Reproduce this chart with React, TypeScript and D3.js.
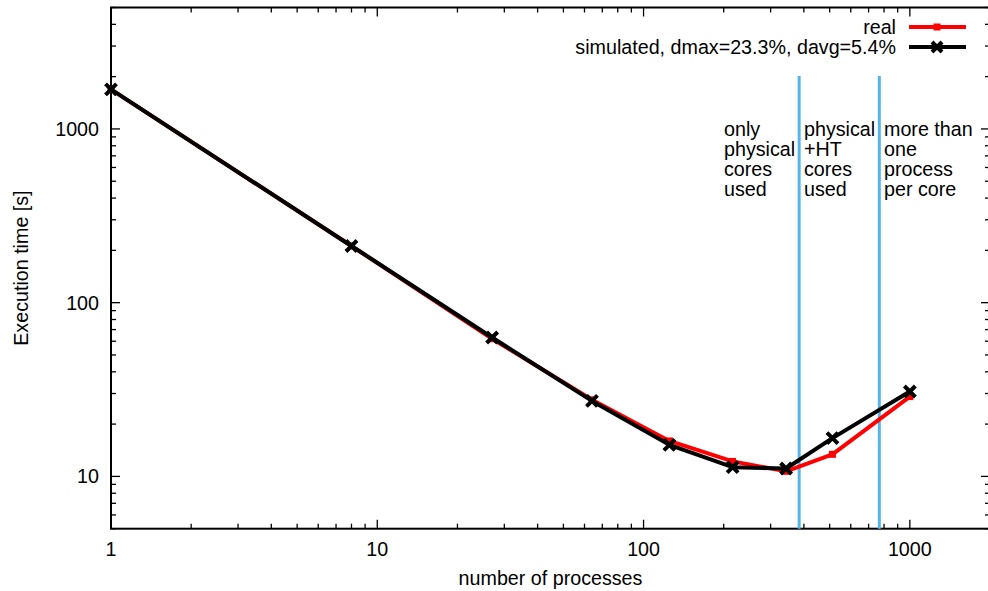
import React from "react";
import * as d3 from "d3";

const procs = [1, 8, 27, 64, 125, 216, 343, 512, 1000];
const realTimes = [1690, 212, 62, 27.6, 16.0, 12.2, 10.7, 13.4, 28.8];
const simTimes = [1690, 212, 63, 27.2, 15.2, 11.3, 11.1, 16.6, 30.8];
const xMajor = [1, 10, 100, 1000];
const yMajor = [10, 100, 1000];
const boundaries = [384, 768];
const regionLabels = [
  ["only", "physical", "cores", "used"],
  ["physical", "+HT", "cores", "used"],
  ["more than", "one", "process", "per core"],
];
const legendLabels = ["real", "simulated, dmax=23.3%, davg=5.4%"];

const W = 988;
const H = 591;
const L = 111, R = 990, T = 7.5, B = 528.7;
const FONT = "'Liberation Sans', Arial, Helvetica, sans-serif";
const FS = 19.7;

export default function App() {
  const x = d3.scaleLog().domain([1, 2000]).range([L, R]);
  const y = d3.scaleLog().domain([5, 5000]).range([B, T]);

  const xMinor: number[] = [];
  for (const d of [1, 10, 100, 1000]) for (let k = 2; k <= 9; k++) if (d * k <= 2000) xMinor.push(d * k);
  const yMinor: number[] = [];
  for (const d of [1, 10, 100, 1000]) for (let k = 2; k <= 9; k++) if (d * k >= 5 && d * k <= 5000) yMinor.push(d * k);

  const line = d3
    .line<number>()
    .x((_, i) => x(procs[i]))
    .y((v) => y(v));

  const maj = 9, mnr = 5;

  return (
    <div style={{ position: "absolute", left: 0, top: 0 }}>
      <svg width={W} height={H} style={{ display: "block", background: "#fff" }} fontFamily={FONT}>
        <rect x={0} y={0} width={W} height={H} fill="#fff" />
        {/* ticks */}
        <g stroke="#000" strokeWidth={1.3}>
          {xMajor.map((v) => (
            <g key={"xm" + v}>
              <line x1={x(v)} x2={x(v)} y1={B} y2={B - maj} />
              <line x1={x(v)} x2={x(v)} y1={T} y2={T + maj} />
            </g>
          ))}
          {xMinor.map((v) => (
            <g key={"xn" + v}>
              <line x1={x(v)} x2={x(v)} y1={B} y2={B - mnr} />
              <line x1={x(v)} x2={x(v)} y1={T} y2={T + mnr} />
            </g>
          ))}
          {yMajor.map((v) => (
            <g key={"ym" + v}>
              <line x1={L} x2={L + maj} y1={y(v)} y2={y(v)} />
              <line x1={R} x2={R - maj} y1={y(v)} y2={y(v)} />
            </g>
          ))}
          {yMinor.map((v) => (
            <g key={"yn" + v}>
              <line x1={L} x2={L + mnr} y1={y(v)} y2={y(v)} />
              <line x1={R} x2={R - mnr} y1={y(v)} y2={y(v)} />
            </g>
          ))}
        </g>
        <rect x={L} y={T} width={R - L} height={B - T} fill="none" stroke="#000" strokeWidth={2} />
        {/* tick labels */}
        <g fontSize={FS} fill="#000">
          {xMajor.map((v) => (
            <text key={"xl" + v} x={x(v)} y={556} textAnchor="middle">
              {v}
            </text>
          ))}
          {yMajor.map((v) => (
            <text key={"yl" + v} x={99} y={y(v) + 7} textAnchor="end">
              {v}
            </text>
          ))}
        </g>
        <text x={(L + R) / 2} y={585} textAnchor="middle" fontSize={FS}>
          number of processes
        </text>
        <text transform={`translate(28,${(T + B) / 2}) rotate(-90)`} textAnchor="middle" fontSize={FS}>
          Execution time [s]
        </text>
        {/* boundaries */}
        {boundaries.map((b) => (
          <line key={"b" + b} x1={x(b)} x2={x(b)} y1={76} y2={B} stroke="#56b4e9" strokeWidth={3} />
        ))}
        {regionLabels.map((lines, j) => (
          <text key={"r" + j} fontSize={FS} fill="#000">
            {lines.map((s, i) => (
              <tspan key={i} x={[724, 804, 884][j]} y={135.5 + 20 * i}>
                {s}
              </tspan>
            ))}
          </text>
        ))}
        {/* data */}
        <path d={line(realTimes) || ""} fill="none" stroke="#ff0000" strokeWidth={4} strokeLinejoin="round" />
        {procs.map((p, i) => (
          <rect key={"rp" + i} x={x(p) - 3.5} y={y(realTimes[i]) - 3.5} width={7} height={7} fill="#ff0000" />
        ))}
        <path d={line(simTimes) || ""} fill="none" stroke="#000" strokeWidth={4} strokeLinejoin="round" />
        {procs.map((p, i) => {
          const cx = x(p), cy = y(simTimes[i]), s = 5.5;
          return (
            <path
              key={"sp" + i}
              d={`M${cx - s},${cy - s}L${cx + s},${cy + s}M${cx - s},${cy + s}L${cx + s},${cy - s}`}
              stroke="#000"
              strokeWidth={4}
            />
          );
        })}
        {/* legend */}
        <g fontSize={FS}>
          <text x={896} y={33.5} textAnchor="end">{legendLabels[0]}</text>
          <line x1={909} x2={966} y1={27} y2={27} stroke="#ff0000" strokeWidth={4} />
          <rect x={933.5} y={23.5} width={7} height={7} fill="#ff0000" />
          <text x={896} y={53.5} textAnchor="end">{legendLabels[1]}</text>
          <line x1={909} x2={966} y1={47} y2={47} stroke="#000" strokeWidth={4} />
          <path d={`M932,42L942,52M932,52L942,42`} stroke="#000" strokeWidth={4} />
        </g>
      </svg>
    </div>
  );
}
